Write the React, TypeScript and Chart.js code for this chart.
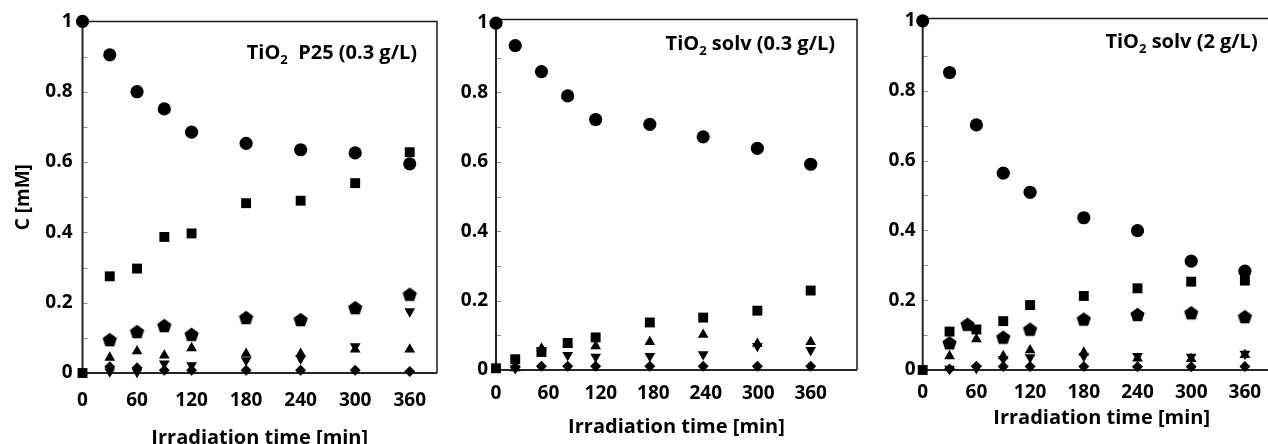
import React, { useEffect, useRef } from "react";
import { Chart, registerables } from "chart.js";

Chart.register(...registerables);

// ---------- shared axis data ----------
const X_TICKS = [0, 60, 120, 180, 240, 300, 360];
const X_TICK_LABELS = ["0", "60", "120", "180", "240", "300", "360"];
const Y_TICKS = [0, 0.2, 0.4, 0.6, 0.8, 1];
const Y_TICK_LABELS = ["0", "0.2", "0.4", "0.6", "0.8", "1"];
const Y_MINOR_TICKS = [0.1, 0.2, 0.3, 0.4, 0.5, 0.6, 0.7, 0.8, 0.9];
const X_TITLE = "Irradiation time [min]";
const Y_TITLE = "C [mM]";

// ---------- panel A: TiO2 P25 (0.3 g/L) ----------
const A_LABEL = ["TiO", "2", "  P25 (0.3 g/L)"];
const A_TIME = [0, 30, 60, 90, 120, 180, 240, 300, 360];
const A_CIRCLE = [1.0, 0.905, 0.8, 0.751, 0.685, 0.653, 0.635, 0.626, 0.595];
const A_SQUARE = [0, 0.275, 0.297, 0.387, 0.397, 0.483, 0.49, 0.54, 0.628];
const A_PENTAGON = [null, 0.095, 0.118, 0.135, 0.11, 0.158, 0.152, 0.186, 0.224];
const A_UP = [null, 0.044, 0.062, 0.05, 0.071, 0.055, 0.055, 0.067, 0.067];
const A_DOWN = [null, 0.004, 0.003, 0.027, 0.022, 0.036, 0.041, 0.076, 0.175];
const A_DIAMOND = [null, 0.018, 0.015, 0.008, 0.008, 0.008, 0.008, 0.008, 0.004];

// ---------- panel B: TiO2 solv (0.3 g/L) ----------
const B_LABEL = ["TiO", "2", " solv (0.3 g/L)"];
const B_TIME = [0, 22, 52, 82, 114, 176, 237, 299, 360];
const B_CIRCLE = [1.0, 0.935, 0.86, 0.79, 0.722, 0.708, 0.672, 0.639, 0.593];
const B_SQUARE = [0.005, 0.031, 0.052, 0.078, 0.094, 0.137, 0.151, 0.171, 0.229];
const B_UP = [null, 0.005, 0.062, 0.072, 0.069, 0.081, 0.102, 0.076, 0.081];
const B_DOWN = [null, 0.005, 0.055, 0.043, 0.038, 0.04, 0.045, 0.069, 0.057];
const B_DIAMOND = [null, 0.008, 0.011, 0.011, 0.011, 0.011, 0.011, 0.011, 0.011];

// ---------- panel C: TiO2 solv (2 g/L) ----------
const C_LABEL = ["TiO", "2", " solv (2 g/L)"];
const C_TIME = [0, 30, 60, 90, 120, 180, 240, 300, 360];
const C_CIRCLE = [1.0, 0.852, 0.702, 0.564, 0.509, 0.436, 0.399, 0.312, 0.283];
const C_SQUARE = [0, 0.11, 0.116, 0.14, 0.186, 0.212, 0.234, 0.253, 0.256];
const C_PENT_TIME = [30, 50, 90, 120, 180, 240, 300, 360];
const C_PENTAGON = [0.078, 0.131, 0.094, 0.117, 0.146, 0.159, 0.164, 0.153];
const C_UP = [null, 0.04, 0.088, 0.04, 0.057, 0.05, 0.033, 0.032, 0.043];
const C_DOWN = [null, 0.003, 0.005, 0.031, 0.036, 0.04, 0.04, 0.038, 0.046];
const C_DIAMOND = [null, 0.003, 0.011, 0.01, 0.01, 0.01, 0.009, 0.009, 0.01];

const FONT = "'Open Sans', 'DejaVu Sans', sans-serif";
const CANVAS_H = 460;

function pts(times: number[], vals: (number | null)[]) {
  const out: { x: number; y: number }[] = [];
  times.forEach((t, i) => {
    const v = vals[i];
    if (v !== null && v !== undefined) out.push({ x: t, y: v });
  });
  return out;
}

function makePentagon(r: number): HTMLCanvasElement {
  const c = document.createElement("canvas");
  const s = Math.ceil(2 * r + 2);
  c.width = s;
  c.height = s;
  const ctx = c.getContext("2d")!;
  ctx.fillStyle = "#000";
  ctx.beginPath();
  for (let i = 0; i < 5; i++) {
    const a = -Math.PI / 2 + (i * 2 * Math.PI) / 5;
    const px = s / 2 + r * Math.cos(a);
    const py = s / 2 + 0.8 + r * Math.sin(a);
    if (i === 0) ctx.moveTo(px, py);
    else ctx.lineTo(px, py);
  }
  ctx.closePath();
  ctx.fill();
  return c;
}

type PanelCfg = {
  canvasLeft: number;
  canvasWidth: number;
  chartLeft: number;
  chartRight: number;
  chartTop: number;
  chartBottom: number;
  xMax: number;
  yMax: number;
  xTickPad: number;
  yTickPad: number;
  xTitlePadBottom: number;
  showYTitle: boolean;
  label: string[];
  labelInsetRight: number;
  labelBaseline: number;
  datasets: any[];
};

function ds(data: any[], style: any, radius: number, rotation = 0) {
  return {
    type: "scatter",
    data,
    pointStyle: style,
    pointRadius: radius,
    pointHoverRadius: radius,
    pointRotation: rotation,
    backgroundColor: "#000",
    borderColor: "#000",
    pointBorderWidth: 0,
    showLine: false,
    clip: false,
  };
}

function buildDatasets(
  times: number[],
  circle: any[],
  square: any[],
  pentTimes: number[] | null,
  pent: any[] | null,
  up: any[],
  down: any[],
  diamond: any[],
  pentImg: HTMLCanvasElement
) {
  const list: any[] = [];
  list.push(ds(pts(times, circle), "circle", 6.6));
  list.push(ds(pts(times, square), "rect", 7));
  if (pent && pentTimes) list.push(ds(pts(pentTimes, pent), pentImg, 7.5));
  list.push(ds(pts(times, up), "triangle", 6.2));
  list.push(ds(pts(times, down), "triangle", 6.2, 180));
  list.push(ds(pts(times, diamond), "rectRot", 5.5));
  return list;
}

const framePlugin = {
  id: "frame",
  beforeDatasetsDraw(chart: any) {
    const { ctx, chartArea } = chart;
    const { left, right, top, bottom } = chartArea;
    const y = chart.scales.y;
    ctx.save();
    // inward minor ticks
    ctx.strokeStyle = "#8a8a8a";
    ctx.lineWidth = 1;
    Y_MINOR_TICKS.forEach((v) => {
      const py = Math.round(y.getPixelForValue(v)) + 0.5;
      ctx.beginPath();
      ctx.moveTo(left, py);
      ctx.lineTo(left + 5, py);
      ctx.stroke();
    });
    // top & right border
    ctx.strokeStyle = "#1a1a1a";
    ctx.lineWidth = 1.5;
    ctx.beginPath();
    ctx.moveTo(left, top);
    ctx.lineTo(right, top);
    ctx.lineTo(right, bottom);
    ctx.stroke();
    // axes
    ctx.strokeStyle = "#262626";
    ctx.lineWidth = 2;
    ctx.beginPath();
    ctx.moveTo(left, top);
    ctx.lineTo(left, bottom);
    ctx.lineTo(right, bottom);
    ctx.stroke();
    ctx.restore();
  },
};

const labelPlugin = {
  id: "panelLabel",
  afterDraw(chart: any, _args: any, opts: any) {
    const parts: string[] = opts.parts;
    if (!parts) return;
    const { ctx, chartArea } = chart;
    ctx.save();
    const big = `bold 20px ${FONT}`;
    const small = `bold 13px ${FONT}`;
    ctx.font = big;
    const w0 = ctx.measureText(parts[0]).width;
    const w2 = ctx.measureText(parts[2]).width;
    ctx.font = small;
    const w1 = ctx.measureText(parts[1]).width;
    const total = w0 + w1 + w2;
    let x = chartArea.right - opts.insetRight - total;
    const base = chartArea.top + opts.baseline;
    ctx.fillStyle = "#000";
    ctx.textBaseline = "alphabetic";
    ctx.textAlign = "left";
    ctx.font = big;
    ctx.fillText(parts[0], x, base);
    x += w0;
    ctx.font = small;
    ctx.fillText(parts[1], x, base + 5);
    x += w1;
    ctx.font = big;
    ctx.fillText(parts[2], x, base);
    ctx.restore();
  },
};

function Panel({ cfg }: { cfg: PanelCfg }) {
  const ref = useRef<HTMLCanvasElement | null>(null);
  useEffect(() => {
    if (!ref.current) return;
    const yWidth = cfg.chartLeft - cfg.canvasLeft;
    const padRight = cfg.canvasLeft + cfg.canvasWidth - cfg.chartRight;
    const xHeight = CANVAS_H - cfg.chartBottom;
    const chart = new Chart(ref.current, {
      type: "scatter",
      data: { datasets: cfg.datasets },
      plugins: [framePlugin, labelPlugin],
      options: {
        animation: false,
        responsive: false,
        devicePixelRatio: 1,
        layout: { padding: { left: 0, right: padRight, top: cfg.chartTop, bottom: 0 } },
        plugins: {
          legend: { display: false },
          tooltip: { enabled: false },
          panelLabel: {
            parts: cfg.label,
            insetRight: cfg.labelInsetRight,
            baseline: cfg.labelBaseline,
          },
        } as any,
        scales: {
          x: {
            type: "linear",
            min: 0,
            max: cfg.xMax,
            grid: { display: false, drawTicks: false },
            border: { display: false },
            afterBuildTicks: (s: any) => {
              s.ticks = X_TICKS.map((v) => ({ value: v }));
            },
            afterFit: (s: any) => {
              s.height = xHeight;
            },
            ticks: {
              padding: cfg.xTickPad,
              color: "#000",
              maxRotation: 0,
              autoSkip: false,
              font: { family: FONT, size: 19, weight: "bold" },
              callback: (_v: any, i: number) => X_TICK_LABELS[i],
            },
            title: {
              display: true,
              text: X_TITLE,
              color: "#000",
              font: { family: FONT, size: 20, weight: "bold" },
              padding: { top: 0, bottom: cfg.xTitlePadBottom },
            },
          },
          y: {
            type: "linear",
            min: 0,
            max: cfg.yMax,
            grid: { display: false, drawTicks: false },
            border: { display: false },
            afterBuildTicks: (s: any) => {
              s.ticks = Y_TICKS.map((v) => ({ value: v }));
            },
            afterFit: (s: any) => {
              s.width = yWidth;
            },
            ticks: {
              padding: cfg.yTickPad,
              color: "#000",
              autoSkip: false,
              font: { family: FONT, size: 19, weight: "bold" },
              callback: (_v: any, i: number) => Y_TICK_LABELS[i],
            },
            title: {
              display: cfg.showYTitle,
              text: Y_TITLE,
              color: "#000",
              font: { family: FONT, size: 19, weight: "bold" },
              padding: { top: 12, bottom: 0 },
            },
          },
        },
      } as any,
    });
    return () => chart.destroy();
  }, [cfg]);
  return (
    <div
      style={{
        position: "absolute",
        left: cfg.canvasLeft,
        top: 0,
        width: cfg.canvasWidth,
        height: CANVAS_H,
      }}
    >
      <canvas
        ref={ref}
        width={cfg.canvasWidth}
        height={CANVAS_H}
        style={{ width: cfg.canvasWidth, height: CANVAS_H, display: "block" }}
      />
    </div>
  );
}

export default function App() {
  const pentImg = React.useMemo(() => makePentagon(7.5), []);
  const panels: PanelCfg[] = React.useMemo(
    () => [
      {
        canvasLeft: 0,
        canvasWidth: 450,
        chartLeft: 82.5,
        chartRight: 437,
        chartTop: 17,
        chartBottom: 373,
        xMax: 390,
        yMax: 1,
        xTickPad: 16,
        yTickPad: 10,
        xTitlePadBottom: 10,
        showYTitle: true,
        label: A_LABEL,
        labelInsetRight: 20,
        labelBaseline: 38,
        datasets: buildDatasets(A_TIME, A_CIRCLE, A_SQUARE, A_TIME, A_PENTAGON, A_UP, A_DOWN, A_DIAMOND, pentImg),
      },
      {
        canvasLeft: 445,
        canvasWidth: 420,
        chartLeft: 496,
        chartRight: 857,
        chartTop: 17,
        chartBottom: 370,
        xMax: 413,
        yMax: 1.0105,
        xTickPad: 12.5,
        yTickPad: 8,
        xTitlePadBottom: 21,
        showYTitle: false,
        label: B_LABEL,
        labelInsetRight: 22,
        labelBaseline: 31,
        datasets: buildDatasets(B_TIME, B_CIRCLE, B_SQUARE, null, null, B_UP, B_DOWN, B_DIAMOND, pentImg),
      },
      {
        canvasLeft: 865,
        canvasWidth: 430,
        chartLeft: 922.7,
        chartRight: 1280.7,
        chartTop: 18,
        chartBottom: 370,
        xMax: 400,
        yMax: 1.007,
        xTickPad: 11,
        yTickPad: 7,
        xTitlePadBottom: 29.5,
        showYTitle: false,
        label: C_LABEL,
        labelInsetRight: 23,
        labelBaseline: 30,
        datasets: buildDatasets(C_TIME, C_CIRCLE, C_SQUARE, C_PENT_TIME, C_PENTAGON, C_UP, C_DOWN, C_DIAMOND, pentImg),
      },
    ],
    [pentImg]
  );
  return (
    <div
      style={{
        position: "fixed",
        left: 0,
        top: 0,
        width: 1268,
        height: 444,
        overflow: "hidden",
        background: "#fff",
      }}
    >
      {panels.map((p, i) => (
        <Panel key={i} cfg={p} />
      ))}
    </div>
  );
}
